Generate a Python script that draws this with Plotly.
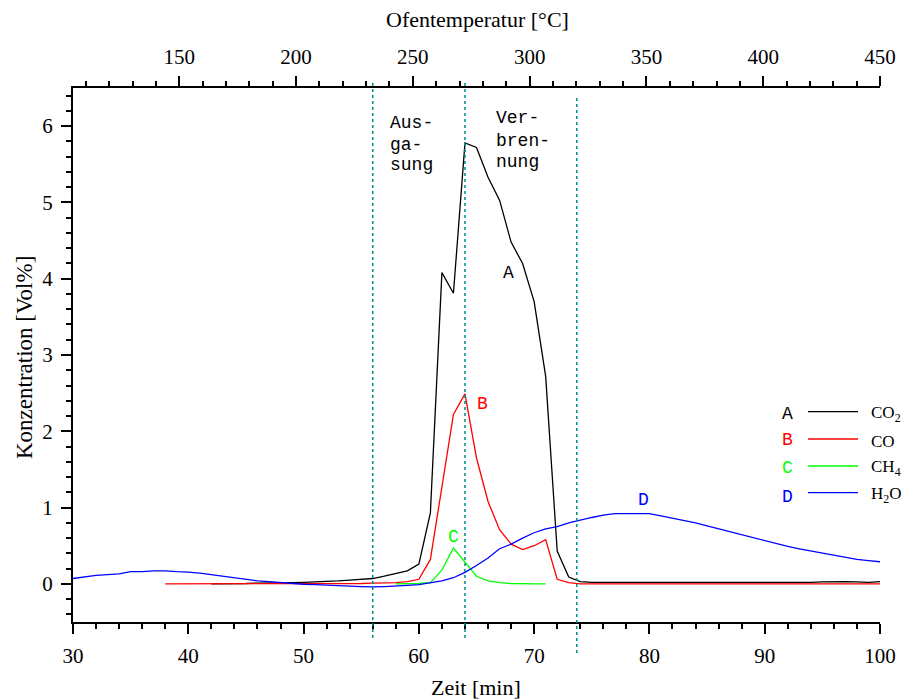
import plotly.graph_objects as go

# ---------------- data ----------------
time_co2 = list(range(42, 101))
co2 = [0.0, 0.0, 0.0, 0.005, 0.01, 0.01, 0.015, 0.015, 0.02, 0.025, 0.03, 0.04, 0.05, 0.06,
       0.07, 0.10, 0.13, 0.17, 0.26, 0.93, 4.08, 3.81, 5.78, 5.72, 5.33, 5.03, 4.48, 4.20,
       3.70, 2.72, 0.43, 0.09, 0.03,
       0.02, 0.02, 0.02, 0.02, 0.015, 0.02, 0.02, 0.02, 0.02, 0.02, 0.02, 0.02, 0.02, 0.02,
       0.02, 0.02, 0.02, 0.02, 0.02, 0.02, 0.025, 0.03, 0.03, 0.025, 0.02, 0.03]

time_co = list(range(38, 101))
co = [0.0, 0.0, 0.0, 0.0, 0.0, 0.0, 0.0, 0.0, 0.0, 0.0, 0.0, 0.0, 0.0, 0.0, 0.0, 0.0,
      0.005, 0.005, 0.01, 0.01, 0.015, 0.03, 0.06, 0.32, 1.30, 2.22, 2.49, 1.65, 1.08,
      0.71, 0.52, 0.45, 0.50, 0.58, 0.06, 0.015, 0.0,
      0.0, -0.005, 0.0, 0.0, -0.005, 0.0, 0.0, 0.0, 0.0, -0.005, 0.0, 0.0, 0.0, 0.0,
      0.0, 0.0, 0.0, 0.0, 0.0, 0.0, 0.0, 0.0, 0.0, 0.0, 0.0, 0.0]

time_ch4 = list(range(58, 72))
ch4 = [0.0, 0.0, 0.005, 0.015, 0.18, 0.47, 0.285, 0.10, 0.04, 0.015, 0.005, 0.0, 0.0, 0.0]

time_h2o = list(range(30, 101))
h2o = [0.07, 0.09, 0.11, 0.12, 0.13, 0.16, 0.16, 0.17, 0.17, 0.16, 0.155, 0.14, 0.12, 0.10,
       0.08, 0.06, 0.04, 0.03, 0.015, 0.005, -0.005, -0.01, -0.02, -0.025, -0.03, -0.035,
       -0.04, -0.035, -0.03, -0.02, -0.01, 0.01, 0.04, 0.08, 0.15, 0.24, 0.34, 0.46, 0.52,
       0.60, 0.67, 0.72, 0.75, 0.80, 0.84, 0.87, 0.90, 0.92, 0.92, 0.92, 0.92, 0.89, 0.86,
       0.84, 0.80, 0.76, 0.72, 0.68, 0.65, 0.61, 0.57, 0.53, 0.49, 0.46, 0.43, 0.40, 0.37,
       0.34, 0.32, 0.305, 0.29]

series_letters = ["A", "B", "C", "D"]
series_names = ["CO<sub>2</sub>", "CO", "CH<sub>4</sub>", "H<sub>2</sub>O"]
series_colors = ["#000000", "#ff0000", "#00ff00", "#0000ff"]

# curve label positions (time, value)
label_t = [67.8, 65.5, 63.0, 79.5]
label_v = [4.08, 2.36, 0.62, 1.10]

# phase boundaries (min)
phase_boundaries = [56.0, 64.0, 73.7]
phase_text_left = ["Aus-", "ga-", "sung"]
phase_text_right = ["Ver-", "bren-", "nung"]

x_range = [30, 100]
temp_range = [104.5, 450]
y_range = [-0.5, 6.5]

# ---------------- figure ----------------
SERIF = "Liberation Serif"
MONO = "Liberation Mono"

fig = go.Figure()
for t, v, c in [(time_co2, co2, series_colors[0]), (time_co, co, series_colors[1]),
                (time_ch4, ch4, series_colors[2]), (time_h2o, h2o, series_colors[3])]:
    fig.add_trace(go.Scatter(x=t, y=v, mode="lines", line=dict(color=c, width=1.3),
                             showlegend=False, hoverinfo="skip"))

# dummy trace to activate the top temperature axis
fig.add_trace(go.Scatter(x=temp_range, y=[None, None], xaxis="x2", yaxis="y",
                         mode="lines", showlegend=False, hoverinfo="skip"))

L, R, T, B = 73, 22, 88, 78
W, H = 902, 700
pw, ph = W - L - R, H - T - B


def px(xp):
    return (xp - L) / pw


def py(yp):
    return (H - B - yp) / ph


tickfont = dict(family=SERIF, size=21, color="black")
common = dict(showgrid=False, zeroline=False, showline=True, linecolor="black", linewidth=2,
              ticks="outside", ticklen=10, tickwidth=2, tickcolor="black",
              tickfont=tickfont, ticklabelstandoff=4, automargin=False,
              ticklabeloverflow="allow")
fig.update_layout(
    width=W, height=H,
    margin=dict(l=L, r=R, t=T, b=B, autoexpand=False),
    paper_bgcolor="white", plot_bgcolor="white",
    xaxis=dict(range=x_range, dtick=10, tick0=0,
               minor=dict(dtick=2, ticklen=5, tickwidth=2, tickcolor="black", ticks="outside"),
               **common),
    xaxis2=dict(range=temp_range, overlaying="x", side="top", anchor="y",
                dtick=50, tick0=0,
                minor=dict(dtick=10, ticklen=5, tickwidth=2, tickcolor="black", ticks="outside"),
                **common),
    yaxis=dict(range=y_range, dtick=1, tick0=0,
               minor=dict(dtick=0.2, ticklen=5, tickwidth=2, tickcolor="black", ticks="outside"),
               **common),
)

# phase boundary lines
for xb, (y0p, y1p) in zip(phase_boundaries, [(638, 80), (638, 80), (653, 95)]):
    fig.add_shape(type="line", xref="x", yref="paper", x0=xb, x1=xb,
                  y0=py(y0p), y1=py(y1p),
                  line=dict(color="#008b8b", width=1.5, dash="dot"))

# phase texts
for i, s in enumerate(phase_text_left):
    fig.add_annotation(x=px(388), y=py([122.7, 144.5, 165][i]), xref="paper", yref="paper",
                       text=s, showarrow=False, xanchor="left", yanchor="middle",
                       font=dict(family=MONO, size=18, color="black"))
for i, s in enumerate(phase_text_right):
    fig.add_annotation(x=px(494), y=py([118.3, 140.7, 161.7][i]), xref="paper", yref="paper",
                       text=s, showarrow=False, xanchor="left", yanchor="middle",
                       font=dict(family=MONO, size=18, color="black"))

# curve labels
for lt, lv, s, c in zip(label_t, label_v, series_letters, series_colors):
    fig.add_annotation(x=lt, y=lv, xref="x", yref="y", text=s, showarrow=False,
                       xanchor="center", yanchor="middle",
                       font=dict(family=MONO, size=18, color=c))

# custom legend
leg_line_y = [411.7, 439, 466, 492.7]
leg_letter_y = [414, 440, 468, 497]
for i in range(4):
    fig.add_shape(type="line", xref="paper", yref="paper", x0=px(808), x1=px(858),
                  y0=py(leg_line_y[i]), y1=py(leg_line_y[i]),
                  line=dict(color=series_colors[i], width=1.3))
    fig.add_annotation(x=px(787), y=py(leg_letter_y[i]), xref="paper", yref="paper",
                       text=series_letters[i], showarrow=False, xanchor="center",
                       yanchor="middle", font=dict(family=MONO, size=18, color=series_colors[i]))
    fig.add_annotation(x=px(869), y=py(leg_line_y[i] + 2), xref="paper", yref="paper",
                       text=series_names[i], showarrow=False, xanchor="left",
                       yanchor="middle", font=dict(family=SERIF, size=17, color="black"))

# axis titles
fig.add_annotation(x=px(476), y=py(687), xref="paper", yref="paper", text="Zeit [min]",
                   showarrow=False, xanchor="center", yanchor="middle",
                   font=dict(family=SERIF, size=22, color="black"))
fig.add_annotation(x=px(477), y=py(20), xref="paper", yref="paper",
                   text="Ofentemperatur [°C]", showarrow=False, xanchor="center",
                   yanchor="middle", font=dict(family=SERIF, size=22, color="black"))
fig.add_annotation(x=px(24), y=py(358), xref="paper", yref="paper",
                   text="Konzentration [Vol%]", showarrow=False, textangle=-90,
                   xanchor="center", yanchor="middle",
                   font=dict(family=SERIF, size=23, color="black"))

fig.write_html("out.html")
